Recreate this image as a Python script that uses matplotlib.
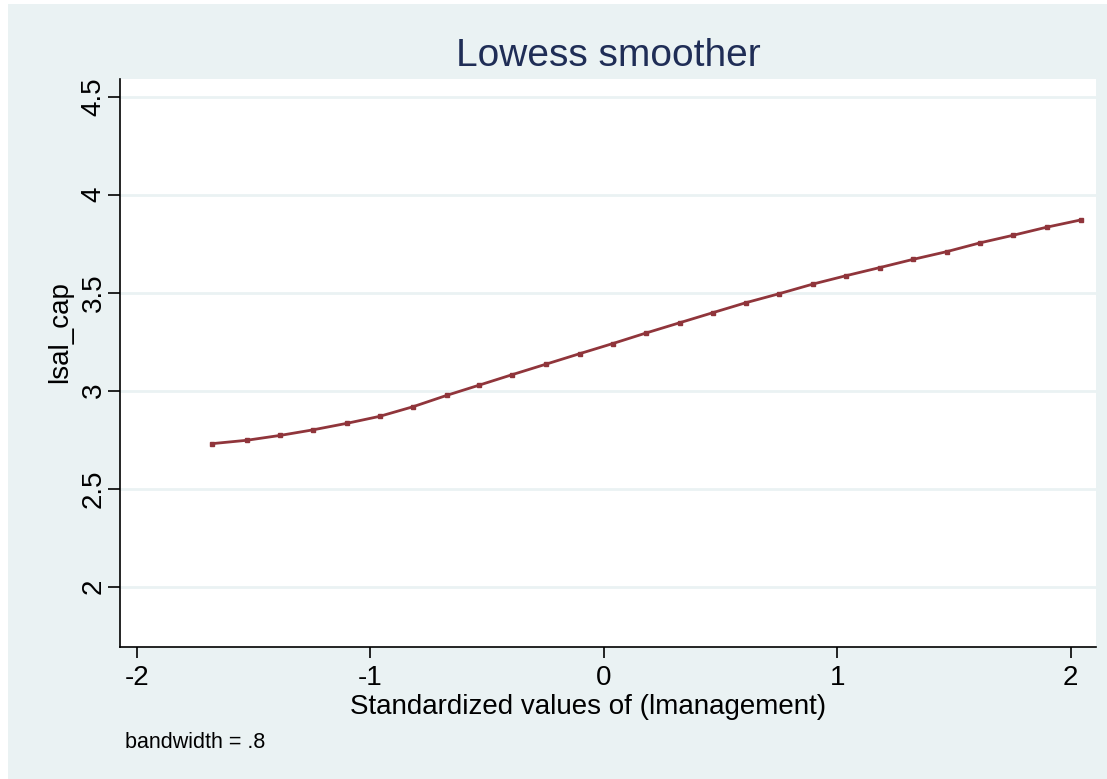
import matplotlib
matplotlib.use("Agg")
import matplotlib.pyplot as plt
from matplotlib.patches import Rectangle

# Data
x_std = [-1.677, -1.530, -1.386, -1.247, -1.099, -0.961, -0.818, -0.671, -0.535,
         -0.392, -0.246, -0.103, 0.037, 0.180, 0.326, 0.467, 0.609, 0.752,
         0.896, 1.039, 1.182, 1.325, 1.468, 1.611, 1.754, 1.897, 2.043]
lsal_cap = [2.730, 2.747, 2.772, 2.800, 2.834, 2.869, 2.918, 2.977, 3.028,
            3.082, 3.136, 3.189, 3.240, 3.294, 3.347, 3.398, 3.449, 3.495,
            3.544, 3.587, 3.628, 3.670, 3.709, 3.754, 3.793, 3.834, 3.871]
x_ticks = [-2, -1, 0, 1, 2]
y_ticks = [2, 2.5, 3, 3.5, 4, 4.5]
y_tick_labels = ["2", "2.5", "3", "3.5", "4", "4.5"]

plt.rcParams['font.family'] = ['Liberation Sans', 'DejaVu Sans']

W, H = 1107, 779
fig = plt.figure(figsize=(W / 100, H / 100), dpi=100)
fig.patch.set_facecolor("white")
bg = "#EAF2F3"
fig.patches.append(Rectangle((8 / W, 0), 1 - 8 / W, 1 - 4 / H,
                             transform=fig.transFigure, facecolor=bg,
                             edgecolor="none", zorder=-10))

left, right = 120 / W, 1095.7 / W
bottom, top = 1 - 646.7 / H, 1 - 79 / H
ax = fig.add_axes([left, bottom, right - left, top - bottom])
ax.set_facecolor("white")

ax.set_xlim(-2.073, 2.107)
ax.set_ylim(1.694, 4.590)

for s in ["top", "right"]:
    ax.spines[s].set_visible(False)
for s in ["left", "bottom"]:
    ax.spines[s].set_color("black")
    ax.spines[s].set_linewidth(1.2)

ax.set_yticks(y_ticks)
ax.set_yticklabels(y_tick_labels, rotation=90, va="center")
ax.set_xticks(x_ticks)
ax.set_xticklabels([str(t) for t in x_ticks])
ax.tick_params(axis="y", length=9, width=1.2, labelsize=20, pad=0.5)
ax.tick_params(axis="x", length=8, width=1.2, labelsize=20, pad=5)
ax.grid(axis="y", color=bg, linewidth=2, zorder=0)
ax.set_axisbelow(True)

ax.plot(x_std, lsal_cap, color="#90353B", linewidth=2.0, marker="s",
        markersize=3, zorder=3)

fig.text(608 / W, 1 - 66 / H, "Lowess smoother", ha="center", va="baseline",
         fontsize=28, color="#1F2D56")
fig.text(588 / W, 1 - 714 / H, "Standardized values of (lmanagement)",
         ha="center", va="baseline", fontsize=20)
fig.text(60 / W, 1 - 332 / H, "lsal_cap", rotation=90, ha="center",
         va="center", fontsize=20)
fig.text(125 / W, 1 - 748 / H, "bandwidth = .8", ha="left", va="baseline",
         fontsize=15.5)

fig.savefig("out.png", dpi=100, facecolor=fig.get_facecolor())
